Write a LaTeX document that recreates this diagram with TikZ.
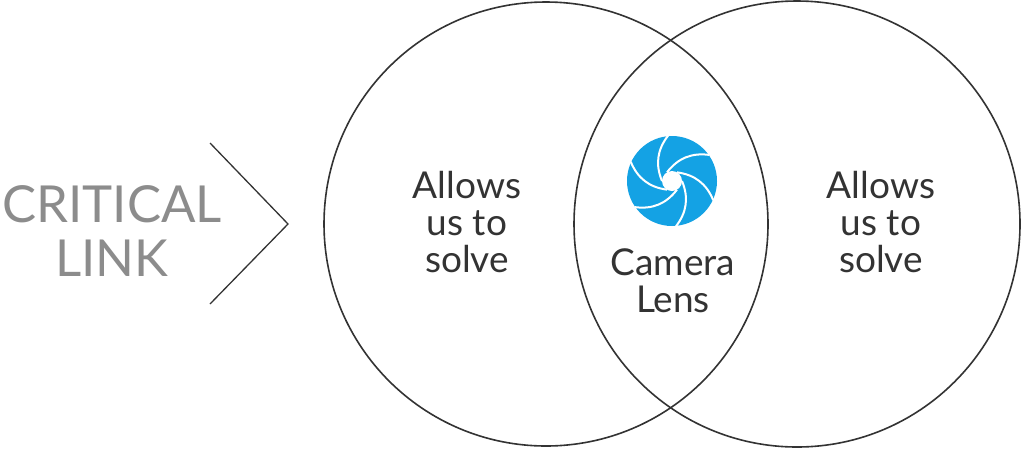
\documentclass[tikz,border=0pt]{standalone}
\usepackage{fontspec}
\setmainfont{Lato}
\definecolor{lensblue}{RGB}{20,162,228}
\begin{document}
\begin{tikzpicture}[x=1pt,y=-1pt,
  ring/.style={draw=black!80,line width=1.6pt},
  body/.style={font=\fontsize{37}{37}\selectfont,text=black!80,align=center},
  crit/.style={font=\fontsize{51}{54}\selectfont,text=black!45,align=center}]
\useasboundingbox (0,0) rectangle (1024,448);
\draw[ring] (546,224) circle (222);
\draw[ring] (797,224) circle (223);
\coordinate (c1) at (210,143);
\coordinate (c2) at (288,224);
\coordinate (c3) at (210,304);
\draw[black!80,line width=1.3pt] (c1) -- (c2) -- (c3);
\node[crit] (crit) at (112,231) {CRITICAL\\LINK};
\node[body] (l) at (467,222) {Allows\\us to\\solve};
\node[body] (r) at (881,222) {Allows\\us to\\solve};
\node[body] (m) at (673,281) {Camera\\Lens};
\begin{scope}[shift={(672,181)}]
\fill[lensblue] (0,0) circle (45);
\fill[white] (0,0) circle (10);
\foreach \a in {0,60,...,300}
  \draw[white,line width=2pt] (\a:10) to[bend left=30] (\a+85:45.5);
\end{scope}
\end{tikzpicture}
\end{document}
